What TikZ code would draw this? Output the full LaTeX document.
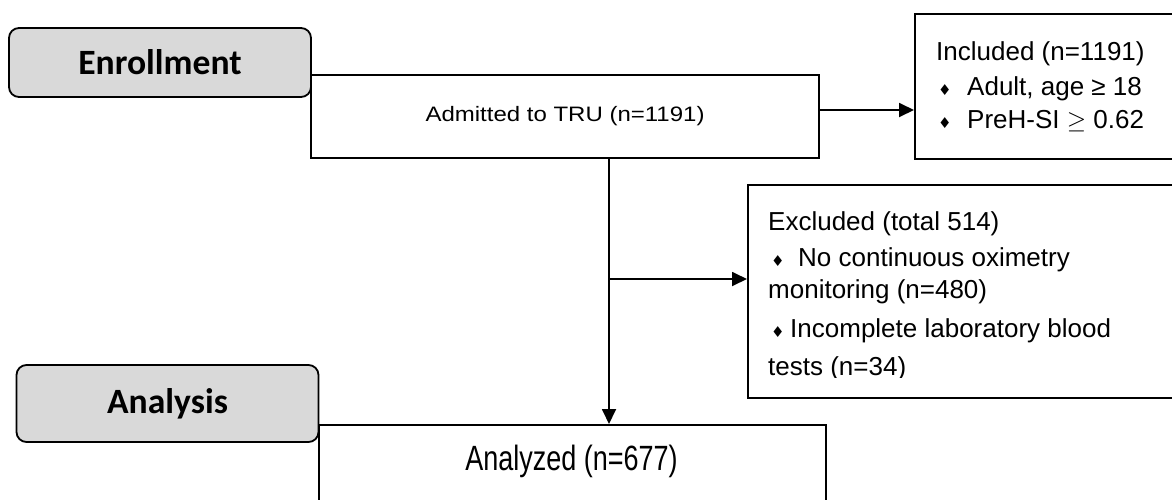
\documentclass[tikz,border=0pt]{standalone}
\usepackage{fontspec}
\setmainfont{Liberation Sans}
\newfontfamily\hdfont{Carlito}
\newfontfamily\dejavu{DejaVu Sans}
\usetikzlibrary{arrows.meta}
\newcommand\bul{{\dejavu\fontsize{15}{15}\selectfont\char"2666}}
\begin{document}
\begin{tikzpicture}[x=1pt,y=-1pt]
\definecolor{cgray}{HTML}{D9D9D9}
\tikzset{phase/.style={rounded corners=10pt,draw=black,line width=1.8pt,fill=cgray,minimum width=302pt,minimum height=69pt,font=\hdfont\bfseries\fontsize{35.6}{40}\selectfont},
 flowbox/.style={draw=black,line width=1.8pt,fill=white,inner sep=0pt},
 body/.style={anchor=base west,inner sep=0pt,font=\fontsize{26}{30}\selectfont},
 arr/.style={line width=1.8pt,-{Triangle[length=15pt,width=14pt]}}}
\useasboundingbox (0,0) rectangle (1172,499);
\clip (0,0) rectangle (1172,499);
% phase labels on the left
\node[phase] (enrol) at (160,62.5) {Enrollment};
\node[phase,minimum height=77pt] (analysis) at (167.5,403.5) {Analysis};
% flow boxes
\node[flowbox,minimum width=508pt,minimum height=83pt,font=\fontsize{24}{28}\selectfont] (adm) at (565,116.5) {\scalebox{1}[0.87]{Admitted to TRU (n=1191)}};
\node[flowbox,anchor=north west,minimum width=290pt,minimum height=145pt] (inc) at (914,13) {};
\node[flowbox,anchor=north west,minimum width=460pt,minimum height=213pt] (exc) at (747,184) {};
\node[flowbox,anchor=north west,minimum width=507pt,minimum height=110pt] (ana) at (318,424) {};
% included criteria
\node[body] (inc1) at (936,60) {Included (n=1191)};
\node[body] (inc2) at (938,95) {\makebox[29pt][l]{\bul}Adult, age ≥ 18};
\node[body] (inc3) at (938,128) {\makebox[29pt][l]{\bul}PreH-SI $\geq$ 0.62};
% excluded reasons (text frame cut at the bottom)
\begin{scope}
\clip (747,184) rectangle (1172,377);
\node[body] (exc1) at (768,230) {Excluded (total 514)};
\node[body] (exc2) at (771,266) {\makebox[27pt][l]{\bul}No continuous oximetry};
\node[body] (exc3) at (768,298) {monitoring (n=480)};
\node[body] (exc4) at (771,337) {\makebox[19pt][l]{\bul}Incomplete laboratory blood};
\node[body] (exc5) at (768,375) {tests (n=34)};
\end{scope}
\node[body,anchor=base,font=\fontsize{27}{30}\selectfont] (ana1) at (571.5,470) {\scalebox{1}[1.3]{Analyzed (n=677)}};
% connectors
\coordinate (split) at (609,279);
\draw[arr] ([yshift=6.5pt]adm.east) -- ([yshift=6.5pt]adm.east -| inc.west);
\draw[arr] (adm.south -| split) -- (ana.north -| split);
\draw[arr] (split) -- (split -| exc.west);
\end{tikzpicture}
\end{document}
